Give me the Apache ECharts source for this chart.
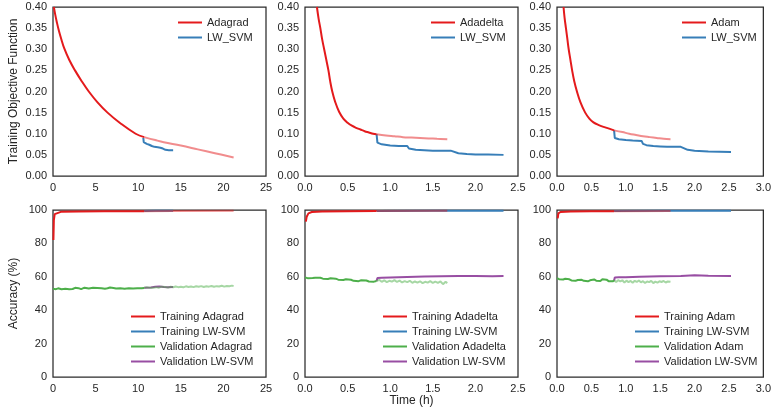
<!DOCTYPE html>
<html><head><meta charset="utf-8">
<script src="https://cdn.jsdelivr.net/npm/echarts@6/dist/echarts.min.js"></script>
<style>html,body{margin:0;padding:0;background:#fff}#c{width:774px;height:413px}</style>
</head><body><div id="c"></div>
<script>
// ---- Objective function (top row) ----
const objAdagrad = [[0.1,0.40],[0.25,0.383],[0.45,0.364],[0.7,0.343],[1.0,0.322],[1.3,0.303],[1.9,0.275],[2.58,0.25],[3.35,0.225],[4.2,0.20],[5.2,0.175],[6.4,0.15],[7.9,0.125],[9.7,0.100],[10.7,0.092]];
const objAdagradCont = [[10.7,0.092],[12,0.085],[13,0.080],[15,0.072],[17,0.063],[19,0.054],[21.2,0.044]];
const objLW1 = [[10.6,0.090],[10.65,0.080],[11.0,0.076],[11.3,0.074],[11.6,0.071],[11.9,0.069],[12.3,0.068],[12.6,0.067],[12.75,0.070],[12.9,0.065],[13.2,0.062],[13.6,0.061],[14.1,0.061]];

const objAdadelta = [[0.14,0.40],[0.16,0.372],[0.18,0.35],[0.2,0.325],[0.225,0.30],[0.25,0.275],[0.275,0.25],[0.295,0.225],[0.32,0.20],[0.355,0.175],[0.40,0.152],[0.45,0.136],[0.5,0.126],[0.55,0.119],[0.6,0.114],[0.65,0.110],[0.7,0.106],[0.75,0.103],[0.8,0.100],[0.84,0.099]];
const objAdadeltaCont = [[0.84,0.099],[0.95,0.096],[1.05,0.094],[1.15,0.092],[1.25,0.091],[1.35,0.090],[1.45,0.089],[1.55,0.088],[1.67,0.087]];
const objLW2 = [[0.84,0.099],[0.85,0.079],[0.9,0.075],[1.0,0.072],[1.1,0.071],[1.2,0.071],[1.22,0.065],[1.3,0.062],[1.4,0.061],[1.5,0.060],[1.6,0.060],[1.71,0.060],[1.73,0.056],[1.8,0.054],[1.9,0.052],[2.0,0.051],[2.15,0.051],[2.33,0.050]];

const objAdam = [[0.095,0.40],[0.11,0.375],[0.13,0.35],[0.15,0.325],[0.17,0.30],[0.195,0.275],[0.22,0.25],[0.25,0.225],[0.29,0.20],[0.34,0.175],[0.41,0.15],[0.47,0.136],[0.53,0.127],[0.6,0.121],[0.7,0.115],[0.83,0.108]];
const objAdamCont = [[0.83,0.108],[0.95,0.104],[1.05,0.100],[1.15,0.097],[1.25,0.094],[1.35,0.092],[1.45,0.090],[1.55,0.088],[1.65,0.087]];
const objLW3 = [[0.83,0.108],[0.84,0.090],[0.9,0.087],[1.0,0.085],[1.1,0.084],[1.23,0.083],[1.25,0.076],[1.3,0.073],[1.4,0.071],[1.5,0.070],[1.6,0.069],[1.8,0.069],[1.82,0.065],[1.9,0.062],[2.0,0.060],[2.2,0.058],[2.53,0.057]];

// ---- Accuracy (bottom row) ----
const trAdagrad = [[0.05,82],[0.1,94],[0.2,97.5],[0.4,98.6],[1,99],[3,99.1],[6,99.2],[10.7,99.3]];
const trAdagradCont = [[10.7,99.3],[14,99.4],[21.2,99.5]];
const trLW1 = [[10.7,99.4],[12,99.5],[14.1,99.5]];
const vaAdagrad = [[0,52.8],[0.2,53.3],[0.35,52.6],[0.6,53.1],[0.8,52.9],[1,52.5],[1.2,53.2],[1.45,52.8],[1.6,53.4],[1.9,52.6],[2.1,53.0],[2.3,52.7],[2.6,53.4],[2.8,52.9],[3,53.2],[3.3,52.6],[3.5,53.1],[3.7,53.5],[3.9,52.8],[4.2,53.0],[4.4,52.7],[4.7,53.4],[4.9,53.0],[5.2,53.3],[5.4,52.7],[5.7,53.2],[5.9,53.5],[6.1,52.9],[6.4,53.1],[6.7,53.6],[6.9,52.9],[7.1,53.3],[7.4,53.0],[7.6,53.6],[7.9,53.1],[8.1,53.4],[8.4,52.9],[8.6,53.5],[8.9,53.2],[9.1,53.7],[9.4,53.0],[9.6,53.4],[9.9,53.2],[10.1,53.7],[10.4,53.1],[10.7,53.3]];
const vaAdagradCont = [[10.7,53.3],[11.0,53.7],[11.3,53.4],[11.5,54.0],[11.8,53.5],[12.1,53.8],[12.4,53.4],[12.7,54.1],[12.9,53.6],[13.2,53.9],[13.5,53.5],[13.8,54.1],[14.1,53.7],[14.4,54.2],[14.7,53.8],[15.0,54.0],[15.3,53.7],[15.6,54.3],[15.9,53.9],[16.2,54.2],[16.5,53.8],[16.8,54.3],[17.1,54.0],[17.4,54.4],[17.7,53.9],[18.0,54.3],[18.3,54.1],[18.6,54.5],[18.9,54.0],[19.2,54.4],[19.5,54.2],[19.8,54.6],[20.1,54.1],[20.4,54.5],[20.7,54.3],[21.0,54.7],[21.2,54.4]];
const vaLW1 = [[10.7,53.4],[11.5,53.6],[12,54.0],[12.5,54.2],[13,53.9],[13.5,53.8],[14.1,53.9]];

const trAdadelta = [[0.01,93],[0.02,96],[0.04,98],[0.08,98.8],[0.2,99.1],[0.5,99.3],[0.84,99.4]];
const trAdadeltaCont = [[0.84,99.4],[1.67,99.5]];
const trLW2 = [[0.84,99.4],[1.5,99.5],[2.33,99.6]];
const vaAdadelta = [[0,59.6],[0.03,59.2],[0.05,59.7],[0.09,59.3],[0.12,59.5],[0.14,59.0],[0.18,59.4],[0.21,58.9],[0.23,59.5],[0.27,58.7],[0.3,59.1],[0.32,58.8],[0.36,58.9],[0.39,58.3],[0.41,58.8],[0.45,58.1],[0.48,58.5],[0.5,57.8],[0.54,58.2],[0.57,57.6],[0.59,58.1],[0.63,57.4],[0.66,57.9],[0.68,57.2],[0.72,57.8],[0.75,57.2],[0.77,57.9],[0.81,57.1],[0.84,57.5]];
const vaAdadeltaCont = [[0.84,57.5],[0.87,58.2],[0.9,57.0],[0.93,57.9],[0.96,56.8],[0.99,57.6],[1.02,57.1],[1.05,58.0],[1.08,56.9],[1.11,57.7],[1.14,56.6],[1.17,57.4],[1.2,56.8],[1.23,57.6],[1.26,56.4],[1.29,57.2],[1.32,56.5],[1.35,57.3],[1.38,56.2],[1.41,57.0],[1.44,56.5],[1.47,57.4],[1.5,56.3],[1.53,57.1],[1.56,56.4],[1.59,57.2],[1.62,55.6],[1.65,57.0],[1.67,56.2]];
const vaLW2 = [[0.84,57.5],[0.85,59.3],[0.9,59.4],[1.0,59.6],[1.2,59.9],[1.4,60.2],[1.6,60.4],[1.8,60.5],[2.0,60.5],[2.2,60.4],[2.33,60.5]];

const trAdam = [[0.01,95],[0.02,98],[0.05,98.8],[0.2,99.1],[0.5,99.2],[0.83,99.3]];
const trAdamCont = [[0.83,99.3],[1.65,99.4]];
const trLW3 = [[0.83,99.4],[1.5,99.5],[2.53,99.5]];
const vaAdam = [[0,59.2],[0.03,58.6],[0.05,59.0],[0.09,58.4],[0.12,58.8],[0.14,58.1],[0.18,58.5],[0.21,57.8],[0.23,58.3],[0.27,57.6],[0.3,58.1],[0.32,57.5],[0.36,58.2],[0.39,57.6],[0.41,58.0],[0.45,57.3],[0.48,57.9],[0.5,57.5],[0.54,58.4],[0.57,57.7],[0.59,58.2],[0.63,57.5],[0.66,58.6],[0.68,57.6],[0.72,58.3],[0.75,57.4],[0.77,58.1],[0.81,57.3],[0.83,57.8]];
const vaAdamCont = [[0.83,57.8],[0.86,56.9],[0.89,58.0],[0.92,57.2],[0.95,57.9],[0.98,56.6],[1.01,57.7],[1.04,56.8],[1.07,57.5],[1.1,56.4],[1.13,57.6],[1.16,56.9],[1.19,57.8],[1.22,56.7],[1.25,57.4],[1.28,56.3],[1.31,57.2],[1.34,56.8],[1.37,57.6],[1.4,56.2],[1.43,57.1],[1.46,56.5],[1.49,57.3],[1.52,56.9],[1.55,57.5],[1.58,56.6],[1.61,57.2],[1.65,57.0]];
const vaLW3 = [[0.83,57.6],[0.84,59.6],[0.9,59.7],[1.0,59.8],[1.2,60.0],[1.5,60.3],[1.8,60.5],[2.0,60.9],[2.2,60.6],[2.53,60.5]];

// ---- Axes ----
const xMax = [25, 2.5, 3.0];
const xInterval = [5, 0.5, 0.5];
const yObjTicks = {min: 0, max: 0.40, interval: 0.05};
const yAccTicks = {min: 0, max: 100, interval: 20};
const optimizers = ['Adagrad', 'Adadelta', 'Adam'];

const RED = '#e41a1c', RED_L = 'rgba(228,26,28,0.5)';
const BLUE = '#377eb8', GREEN = '#4daf4a', GREEN_L = 'rgba(77,175,74,0.5)', PURPLE = '#984ea3';
const FONT = 'Liberation Sans, Arial, sans-serif';
const TXT = '#262626';

const lefts = [53, 305, 557];
const W = 213;
const grids = [], xAxes = [], yAxes = [], legends = [], series = [];
for (let r = 0; r < 2; r++) {
  for (let c = 0; c < 3; c++) {
    const i = r * 3 + c;
    grids.push({left: lefts[c], width: W, top: r === 0 ? 7 : 210, height: r === 0 ? 169 : 167,
      show: true, borderColor: '#2b2b2b', borderWidth: 1.25, backgroundColor: 'transparent'});
    const dec = c === 0 ? 0 : 1;
    xAxes.push({type: 'value', gridIndex: i, min: 0, max: xMax[c], interval: xInterval[c],
      axisLine: {show: false}, axisTick: {show: false}, splitLine: {show: false},
      axisLabel: {color: TXT, fontFamily: FONT, fontSize: 11, margin: 6, formatter: v => v.toFixed(dec)},
      name: i === 4 ? 'Time (h)' : '', nameLocation: 'middle', nameGap: 15,
      nameTextStyle: {color: TXT, fontFamily: FONT, fontSize: 12}});
    const yt = r === 0 ? yObjTicks : yAccTicks;
    yAxes.push({type: 'value', gridIndex: i, min: yt.min, max: yt.max, interval: yt.interval,
      axisLine: {show: false}, axisTick: {show: false}, splitLine: {show: false},
      axisLabel: {color: TXT, fontFamily: FONT, fontSize: 11, margin: 6,
        formatter: r === 0 ? (v => v.toFixed(2)) : (v => String(Math.round(v)))},
      name: c === 0 ? (r === 0 ? 'Training Objective Function' : 'Accuracy (%)') : '',
      nameLocation: 'middle', nameGap: 33, nameRotate: 90,
      nameTextStyle: {color: TXT, fontFamily: FONT, fontSize: 12}});
  }
}

function line(name, data, idx, color, width, smooth) {
  return {type: 'line', name, data, xAxisIndex: idx, yAxisIndex: idx, showSymbol: false, symbol: 'none',
    smooth: smooth || false, color, lineStyle: {color, width}, silent: true, animation: false};
}

const objData = [[objAdagrad, objAdagradCont, objLW1], [objAdadelta, objAdadeltaCont, objLW2], [objAdam, objAdamCont, objLW3]];
const accData = [
  [trAdagrad, trAdagradCont, trLW1, vaAdagrad, vaAdagradCont, vaLW1],
  [trAdadelta, trAdadeltaCont, trLW2, vaAdadelta, vaAdadeltaCont, vaLW2],
  [trAdam, trAdamCont, trLW3, vaAdam, vaAdamCont, vaLW3]];

const legTop = [[178, 15], [431, 15], [682, 15]];
const legBot = [[131, 309], [383, 309], [635, 309]];
for (let c = 0; c < 3; c++) {
  const o = optimizers[c];
  const [a, ac, lw] = objData[c];
  series.push(line('LW_SVM', lw, c, BLUE, 2));
  series.push(line(o, a, c, RED, 2, 0.4));
  series.push(line(o + ' (cont)', ac, c, RED_L, 2, 0.4));
  const [ta, tac, tlw, va, vac, vlw] = accData[c];
  const b = 3 + c;
  series.push(line('Training LW-SVM', tlw, b, BLUE, 2));
  series.push(line('Training ' + o, ta, b, RED, 2));
  series.push(line('Training ' + o + ' (cont)', tac, b, RED_L, 2));
  series.push(line('Validation LW-SVM', vlw, b, PURPLE, 2));
  series.push(line('Validation ' + o, va, b, GREEN, 2));
  series.push(line('Validation ' + o + ' (cont)', vac, b, GREEN_L, 2));
  const lg = {orient: 'vertical', icon: 'rect', itemWidth: 24, itemHeight: 2, itemGap: 0, padding: 0,
    selectedMode: false, textStyle: {color: TXT, fontFamily: FONT, fontSize: 11, lineHeight: 15}};
  legends.push(Object.assign({}, lg, {left: legTop[c][0], top: legTop[c][1], data: [o, 'LW_SVM']}));
  legends.push(Object.assign({}, lg, {left: legBot[c][0], top: legBot[c][1],
    data: ['Training ' + o, 'Training LW-SVM', 'Validation ' + o, 'Validation LW-SVM']}));
}

const chart = echarts.init(document.getElementById('c'), null, {renderer: 'canvas'});
chart.setOption({animation: false, backgroundColor: '#fff', grid: grids, xAxis: xAxes, yAxis: yAxes, legend: legends, series});
</script></body></html>
